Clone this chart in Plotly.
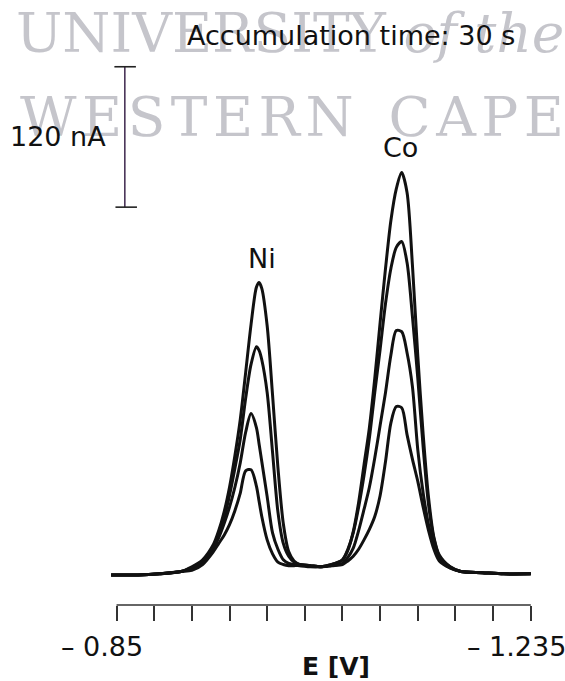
import plotly.graph_objects as go

# Potential grid (V) shared by the four voltammograms
potential_V = [
    -0.845, -0.850, -0.870, -0.890, -0.910, -0.920, -0.930, -0.940, -0.945, -0.950,
    -0.955, -0.960, -0.965, -0.970, -0.975, -0.980, -0.9825, -0.985, -0.990, -0.995,
    -1.000, -1.005, -1.010, -1.015, -1.020, -1.030, -1.040, -1.050, -1.060, -1.065,
    -1.070, -1.075, -1.080, -1.085, -1.090, -1.095, -1.100, -1.105, -1.110, -1.115,
    -1.120, -1.125, -1.130, -1.135, -1.140, -1.145, -1.150, -1.160, -1.170, -1.190,
    -1.210, -1.235,
]

# Stripping currents (nA) above the baseline, one list per concentration level
current_1_nA = [
    0, 0, 0, 1, 3, 7, 13, 26, 38, 54,
    75, 102, 133, 173, 214, 246, 250, 245, 213, 154,
    92, 44, 20, 12, 9, 8, 7, 9, 13, 21,
    37, 62, 94, 126, 168, 216, 262, 303, 330, 344,
    327, 265, 187, 120, 66, 32, 17, 7, 3, 2,
    1, 1,
]
current_2_nA = [
    0, 0, 0, 1, 3, 6, 11, 24, 36, 49,
    68, 91, 116, 151, 180, 195, 192, 184, 156, 105,
    54, 27, 16, 11, 9, 8, 7, 9, 13, 22,
    36, 58, 85, 117, 156, 193, 232, 262, 280, 285,
    267, 221, 168, 109, 60, 31, 16, 7, 3, 2,
    1, 1,
]
current_3_nA = [
    0, 0, 0, 1, 3, 6, 11, 23, 32, 44,
    58, 75, 96, 122, 138, 126, 112, 97, 67, 36,
    22, 13, 10, 9, 9, 8, 7, 8, 10, 15,
    23, 38, 56, 75, 100, 128, 156, 188, 209, 208,
    190, 161, 107, 70, 43, 25, 14, 6, 3, 2,
    1, 1,
]
current_4_nA = [
    0, 0, 0, 1, 3, 4, 9, 20, 27, 34,
    43, 55, 70, 89, 90, 76, 63, 50, 30, 18,
    11, 9, 8, 8, 8, 7, 7, 8, 9, 12,
    16, 22, 30, 39, 50, 68, 97, 130, 144, 143,
    120, 99, 80, 58, 38, 22, 12, 6, 3, 2,
    1, 1,
]

# Potential axis ticks (V) and the two labelled ends
tick_potentials = [-0.85, -0.885, -0.92, -0.955, -0.99, -1.025,
                   -1.06, -1.095, -1.13, -1.165, -1.2, -1.235]
axis_start_label = "– 0.85"
axis_end_label = "– 1.235"

scale_bar_nA = 120
scale_bar_label = f"{scale_bar_nA} nA"

# ---- layout constants -------------------------------------------------------
W, H = 565, 681
M_L, M_R, M_T, M_B = 109, 31, 20, 76
X_RANGE = [-0.843, -1.238]
Y_RANGE = [-25.64, 474.36]
PLOT_W = W - M_L - M_R
PLOT_H = H - M_T - M_B


def px(x_pixel):
    """Horizontal pixel position -> paper fraction."""
    return (x_pixel - M_L) / PLOT_W


def py(y_pixel):
    """Vertical pixel position (from top) -> paper fraction."""
    return (H - M_B - y_pixel) / PLOT_H


INK = "#111111"
SANS = "DejaVu Sans"

fig = go.Figure()
for series in (current_1_nA, current_2_nA, current_3_nA, current_4_nA):
    fig.add_trace(go.Scatter(
        x=potential_V, y=series, mode="lines",
        line=dict(color=INK, width=3, shape="spline", smoothing=0.8),
        hoverinfo="skip", showlegend=False,
    ))

annotations = []

# faint institutional watermark behind the drawing
wm_font = dict(family="DejaVu Serif", size=55, color="rgba(110,110,125,0.40)")
hs = "\u200a"
annotations.append(dict(
    text="UNIVERSITY <i>of the</i>", xref="paper", yref="paper",
    x=px(14), y=py(33), xanchor="left", yanchor="middle", showarrow=False,
    font=wm_font))
annotations.append(dict(
    text=hs.join("WESTERN") + "  " + hs.join("CAPE"), xref="paper", yref="paper",
    x=px(18), y=py(117), xanchor="left", yanchor="middle", showarrow=False,
    font=wm_font))

label_font = dict(family=SANS, size=27, color=INK)
annotations += [
    dict(text="Accumulation time: 30 s", x=px(351), y=py(35),
         font=label_font),
    dict(text="Co", x=px(400.5), y=py(147), font=label_font),
    dict(text="Ni", x=px(261.5), y=py(258), font=label_font),
    dict(text=scale_bar_label, x=px(57.5), y=py(137),
         font=dict(family=SANS, size=27, color=INK)),
    dict(text=axis_start_label, x=px(145), y=py(646), xanchor="right",
         font=dict(family=SANS, size=27, color=INK)),
    dict(text=axis_end_label, x=px(465), y=py(646), xanchor="left",
         font=dict(family=SANS, size=27, color=INK)),
    dict(text="<b>E [V]</b>", x=px(336), y=py(666),
         font=dict(family=SANS, size=25, color=INK)),
]
for a in annotations[2:]:
    a.setdefault("xref", "paper")
    a.setdefault("yref", "paper")
    a.setdefault("xanchor", "center")
    a.setdefault("yanchor", "middle")
    a["showarrow"] = False

# current scale bar (120 nA) with end caps
bar_x = -0.8577
bar_top = 434.4
bar_bottom = bar_top - scale_bar_nA
cap_left, cap_right = -0.8480, -0.8680
shapes = [
    dict(type="line", xref="x", yref="paper", x0=tick_potentials[0],
         x1=tick_potentials[-1], y0=0, y1=0,
         line=dict(color="#333333", width=1.6)),
    dict(type="line", xref="x", yref="y", x0=bar_x, x1=bar_x,
         y0=bar_bottom, y1=bar_top, line=dict(color="#4a3458", width=1.6)),
    dict(type="line", xref="x", yref="y", x0=cap_left, x1=cap_right,
         y0=bar_top, y1=bar_top, line=dict(color="#222222", width=1.6)),
    dict(type="line", xref="x", yref="y", x0=cap_left - 0.001,
         x1=cap_right - 0.001, y0=bar_bottom, y1=bar_bottom,
         line=dict(color="#222222", width=1.6)),
]

fig.update_layout(
    width=W, height=H,
    margin=dict(l=M_L, r=M_R, t=M_T, b=M_B, pad=0),
    paper_bgcolor="white", plot_bgcolor="white",
    showlegend=False,
    xaxis=dict(range=X_RANGE, showgrid=False, zeroline=False, showline=False,
               ticks="outside", tickvals=tick_potentials, ticklen=15,
               tickwidth=1.6, tickcolor="#333333", showticklabels=False,
               fixedrange=True),
    yaxis=dict(range=Y_RANGE, visible=False, fixedrange=True),
    annotations=annotations,
    shapes=shapes,
)

fig.write_html("out.html")
